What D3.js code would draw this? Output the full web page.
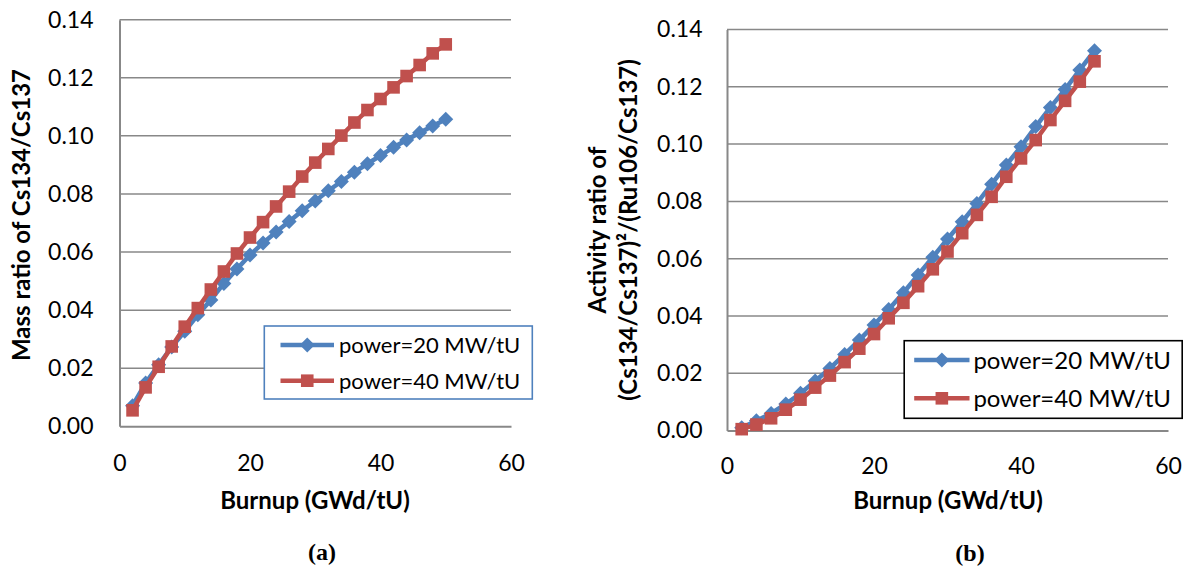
<!DOCTYPE html>
<html><head><meta charset="utf-8">
<script src="https://cdn.jsdelivr.net/npm/d3@7"></script>
<style>body{margin:0;background:#fff}svg{display:block}</style>
</head><body><svg id="c" width="1188" height="567"></svg>
<script>
const burnup = [2,4,6,8,10,12,14,16,18,20,22,24,26,28,30,32,34,36,38,40,42,44,46,48,50];
const massRatio20 = [0.0071,0.0149,0.0212,0.0273,0.0327,0.0384,0.0435,0.0492,0.0542,0.0590,0.0631,0.0669,0.0705,0.0742,0.0776,0.0811,0.0843,0.0875,0.0904,0.0932,0.0961,0.0986,0.1011,0.1034,0.1057];
const massRatio40 = [0.0055,0.0134,0.0205,0.0275,0.0343,0.0407,0.0471,0.0533,0.0595,0.0650,0.0703,0.0757,0.0808,0.0860,0.0908,0.0955,0.1001,0.1046,0.1089,0.1127,0.1167,0.1206,0.1244,0.1284,0.1315];
const actRatio20 = [0.0010,0.0034,0.0060,0.0093,0.0130,0.0173,0.0217,0.0266,0.0316,0.0369,0.0423,0.0481,0.0543,0.0605,0.0669,0.0729,0.0793,0.0860,0.0927,0.0991,0.1061,0.1128,0.1191,0.1259,0.1326];
const actRatio40 = [0.0005,0.0021,0.0043,0.0073,0.0108,0.0150,0.0192,0.0239,0.0286,0.0337,0.0392,0.0446,0.0504,0.0563,0.0625,0.0689,0.0753,0.0816,0.0886,0.0950,0.1014,0.1084,0.1151,0.1218,0.1289];
const yTicks = [0,0.02,0.04,0.06,0.08,0.10,0.12,0.14];
const xTicks = [0,20,40,60];
const seriesNames = ["power=20 MW/tU","power=40 MW/tU"];
const xTitle = "Burnup (GWd/tU)";

const BLUE = "#4F81BD", RED = "#C0504D", GRID = "#888888";
const FONT = "Lato, 'Open Sans', sans-serif";
const svg = d3.select("#c");

function diamondPath(r){ return `M0,${-r}L${r},0L0,${r}L${-r},0Z`; }
function squarePath(r){ return `M${-r},${-r}H${r}V${r}H${-r}Z`; }

function panel(cfg){
  const g = svg.append("g");
  const x = d3.scaleLinear().domain([0,60]).range([cfg.x0, cfg.x1]);
  const y = d3.scaleLinear().domain([0,0.14]).range([cfg.y0, cfg.y1]);

  g.selectAll("line.grid").data(yTicks.slice(1)).join("line")
    .attr("x1", x(0)).attr("x2", x(60))
    .attr("y1", d=>y(d)).attr("y2", d=>y(d))
    .attr("stroke", GRID).attr("stroke-width", 1.5);

  const ax = g.append("g").attr("transform", `translate(0,${y(0)})`)
    .call(d3.axisBottom(x).tickValues(xTicks).tickSize(0).tickPadding(cfg.xPad).tickFormat(d3.format("d")));
  const ay = g.append("g").attr("transform", `translate(${x(0)},0)`)
    .call(d3.axisLeft(y).tickValues(yTicks).tickSize(0).tickPadding(cfg.yPad).tickFormat(d3.format(".2f")));
  [ax, ay].forEach(a=>{
    a.select(".domain").attr("stroke", GRID).attr("stroke-width", 2);
    a.selectAll("text").attr("font-family", FONT).attr("font-size", cfg.tickSize).attr("fill","#000");
  });

  const line = d3.line().x((d,i)=>x(burnup[i])).y(d=>y(d));
  const series = [
    {vals: cfg.s20, color: BLUE, shape: diamondPath(7.5)},
    {vals: cfg.s40, color: RED, shape: squarePath(6.3)}
  ];
  series.forEach(s=>{
    g.append("path").datum(s.vals).attr("d", line)
      .attr("fill","none").attr("stroke", s.color).attr("stroke-width", 4.5).attr("stroke-linejoin","round");
    g.selectAll(null).data(s.vals).join("path")
      .attr("transform", (d,i)=>`translate(${x(burnup[i])},${y(d)})`)
      .attr("d", s.shape).attr("fill", s.color);
  });

  g.append("text").attr("x", cfg.xtX).attr("y", cfg.xtY)
    .attr("text-anchor","middle").attr("font-family", FONT).attr("font-weight","bold")
    .attr("font-size", cfg.titleSize).text(xTitle);
  cfg.yTitle.forEach((t,i)=>{
    g.append("text").attr("transform", `translate(${cfg.ytX[i]},${cfg.ytY}) rotate(-90)`)
      .attr("text-anchor","middle").attr("dy","0.36em")
      .attr("font-family", FONT).attr("font-weight","bold").attr("font-size", cfg.titleSize).text(t);
  });

  g.append("text").attr("x", cfg.capX).attr("y", cfg.capY).attr("text-anchor","middle")
    .attr("font-family","'Liberation Serif', 'Times New Roman', serif").attr("font-weight","bold")
    .attr("font-size", 24).text(cfg.caption);

  const L = cfg.legend;
  g.append("rect").attr("x", L.x).attr("y", L.y).attr("width", L.w).attr("height", L.h)
    .attr("fill","#fff").attr("stroke", L.border).attr("stroke-width", 1.6);
  series.forEach((s,i)=>{
    const ly = L.rows[i];
    g.append("line").attr("x1", L.lx1).attr("x2", L.lx2).attr("y1", ly).attr("y2", ly)
      .attr("stroke", s.color).attr("stroke-width", 4.5);
    g.append("path").attr("transform", `translate(${(L.lx1+L.lx2)/2},${ly})`)
      .attr("d", s.shape).attr("fill", s.color);
    g.append("text").attr("x", L.tx).attr("y", ly).attr("dy","0.36em")
      .attr("font-family", FONT).attr("font-size", L.fs).text(seriesNames[i]);
  });
}

panel({
  x0:119.5, x1:511, y0:426.3, y1:19.7, xPad:28, yPad:26, tickSize:23, titleSize:24,
  s20: massRatio20, s40: massRatio40,
  xtX:315, xtY:509, yTitle:["Mass ratio of Cs134/Cs137"], ytX:[21], ytY:215,
  caption:"(a)", capX:322, capY:560,
  legend:{x:264.3, y:326, w:268, h:73, border:BLUE, rows:[345,380.7], lx1:280.5, lx2:334, tx:339, fs:22}
});
panel({
  x0:727, x1:1168, y0:430.6, y1:29.5, xPad:27, yPad:24.5, tickSize:23, titleSize:24,
  s20: actRatio20, s40: actRatio40,
  xtX:948, xtY:509, yTitle:["Activity ratio of","(Cs134/Cs137)²/(Ru106/Cs137)"], ytX:[597,628], ytY:230,
  caption:"(b)", capX:970, capY:561,
  legend:{x:904.2, y:340.7, w:278, h:77.6, border:"#000", rows:[360,398.3], lx1:914.2, lx2:969.5, tx:973.4, fs:24}
});
</script></body></html>
